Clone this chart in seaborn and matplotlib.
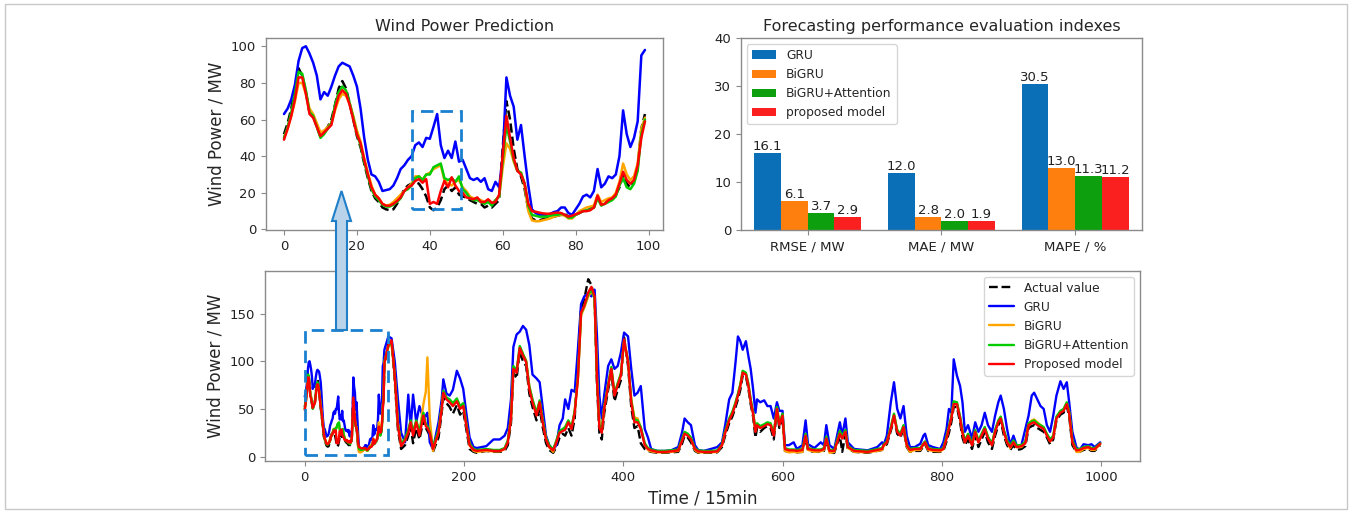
import numpy as np
import pandas as pd
import matplotlib
matplotlib.use("Agg")
import matplotlib.pyplot as plt
from matplotlib.patches import Rectangle, FancyArrow
import seaborn as sns

# ---- first 100 steps (zoomed panel, also start of the long series) ----
top_actual = [52, 58, 66, 77, 88, 84, 75, 64, 62, 56,
              51, 53, 56, 60, 68, 77, 81, 77, 69, 60,
              51, 45, 36, 28, 21, 17, 15, 12, 11, 10.5,
              11, 14, 18, 22, 24, 25, 26, 25, 22, 18,
              12, 10.5, 12, 16, 22, 24, 21, 23, 19, 18,
              17.5, 16, 15, 14, 14, 12, 13, 12, 14, 16,
              45, 70, 60, 44, 33, 29, 22, 11, 6, 5,
              5, 5.5, 6, 6.5, 7, 7.5, 8, 8.5, 7, 6.5,
              8, 9, 10, 11, 11.5, 12, 17, 14, 14, 16,
              17, 19, 23, 30, 25, 23, 26, 34, 55, 63]
top_gru = [63, 66, 71, 79, 92, 99, 100, 96, 91, 84,
           71, 75, 73, 78, 84, 89, 91, 90, 89, 84,
           78, 66, 50, 38, 30, 29, 26, 21, 21.5, 22,
           24, 28, 33, 35, 38, 40, 46, 47.5, 45, 50,
           49.5, 56, 63, 46, 39, 43, 39, 48, 37, 38,
           33, 28, 27, 28, 26, 28, 22, 21, 26, 23,
           40, 83, 73, 67, 49, 57, 40, 24, 11, 9,
           8, 8, 8, 8.5, 9.5, 10, 12, 12, 9, 8,
           11, 14, 18, 19, 17.5, 21, 33, 23, 25, 29,
           28, 30, 40, 65, 52, 45, 50, 59, 95, 98]
top_bigru = [50, 55, 62, 70, 80, 80, 74, 66, 63, 58,
             53, 54, 56, 58, 65, 71, 74, 73, 69, 62,
             54, 48, 39, 31, 24, 19, 17, 14, 13, 13.5,
             15, 17, 19, 21, 23, 25, 29, 29, 27, 30,
             31, 33, 34, 35, 27, 25, 24, 26, 27, 23,
             21, 18, 17, 17, 16, 15, 16, 14, 16, 18,
             34, 47, 44, 37, 32, 31, 24, 10, 5, 4.5,
             4.5, 5, 5.5, 6, 7, 7.5, 8, 7.5, 6, 6,
             8, 10, 11, 12, 12.5, 13, 19, 15, 16, 17,
             17.5, 20, 26, 36, 30, 27, 29, 36, 55, 61]
top_att = [50, 56, 64, 74, 86, 85, 76, 64, 62, 56,
           50, 52, 55, 58, 68, 75, 78, 76, 69, 61,
           52, 46, 37, 29, 22, 18, 16, 13.5, 12.5, 12.5,
           13.5, 15, 17, 21, 22, 24, 28, 29, 27, 30,
           30, 34, 35, 36, 28, 27, 28, 26, 29, 22,
           20, 17, 16, 16, 15, 14, 15, 13, 16, 18,
           38, 57, 48, 38, 32, 31, 25, 13, 8, 7.5,
           7, 7, 7, 7.5, 8, 8, 8.5, 8, 6.5, 6.5,
           8, 9, 10, 10.5, 11, 12, 17, 13, 14, 15,
           16, 18, 24, 28, 23, 22, 25, 32, 52, 60]
top_prop = [49, 55, 62, 71, 83, 83, 74, 63, 61, 56,
            51, 53, 55, 57, 66, 73, 76, 74, 68, 60,
            52, 47, 38, 30, 23, 19, 17, 14, 13, 13,
            14, 15.5, 17.5, 21, 23, 24, 26.5, 27.5, 25.5, 27.5,
            14, 15, 14, 21, 26.5, 23, 28.5, 24, 21, 20,
            17.5, 17, 16.5, 17.5, 15, 15, 16.5, 14.5, 15, 19,
            41, 62, 50, 39, 32, 30, 25, 14, 10, 9.7,
            9.2, 8.8, 8.6, 8.6, 9, 9.2, 9, 8, 7, 7.5,
            8.3, 9, 10, 10, 10.5, 12, 18.5, 13.5, 14, 16,
            17, 19, 25, 31.5, 27, 25, 27, 35, 50, 59]

# ---- rest of the test set at these steps ----
rest_steps = [100, 105, 109, 113, 117, 121, 126, 130, 133, 136,
              140, 144, 149, 152, 154, 157, 161, 168, 172, 174,
              178, 182, 186, 191, 195, 199, 203, 207, 212, 216,
              228, 237, 245, 251, 255, 259, 262, 266, 270, 274,
              278, 282, 286, 291, 295, 299, 303, 307, 312, 316,
              320, 324, 327, 331, 335, 339, 343, 347, 351, 356,
              360, 364, 367, 370, 373, 376, 381, 385, 389, 393,
              397, 401, 406, 410, 414, 418, 422, 427, 431, 435,
              443, 452, 460, 469, 474, 477, 481, 485, 490, 494,
              501, 510, 518, 524, 528, 533, 537, 541, 544, 547,
              550, 554, 557, 560, 563, 566, 568, 572, 577, 581,
              585, 589, 593, 596, 600, 603, 608, 614, 618, 625,
              629, 632, 640, 648, 652, 655, 659, 665, 672, 675,
              679, 682, 690, 707, 719, 725, 727, 731, 736, 740,
              744, 748, 752, 756, 760, 766, 773, 777, 779, 783,
              789, 798, 802, 806, 809, 812, 815, 819, 823, 826,
              829, 833, 838, 842, 846, 850, 854, 858, 863, 867,
              871, 874, 878, 882, 886, 890, 894, 900, 905, 909,
              913, 916, 920, 924, 928, 932, 936, 940, 944, 949,
              953, 957, 960, 964, 969, 973, 978, 984, 988, 992,
              999]
rest_actual = [95, 118, 120, 80, 28, 8, 12, 22, 32, 14,
               30, 18, 38, 30, 27, 22, 5, 20, 46, 62,
               56, 52, 45, 54, 44, 48, 28, 8, 5, 4,
               6, 5, 5, 6, 12, 35, 88, 82, 110, 100,
               95, 66, 52, 38, 50, 30, 14, 7, 4, 10,
               20, 24, 22, 30, 22, 40, 100, 155, 165, 186,
               180, 165, 75, 25, 18, 45, 70, 88, 58, 70,
               80, 125, 95, 52, 30, 32, 14, 8, 6, 5,
               4, 4, 4.5, 5, 14, 22, 20, 15, 6, 4,
               4, 4, 4.5, 10, 22, 35, 42, 52, 60, 70,
               85, 84, 72, 55, 42, 20, 30, 26, 30, 32,
               30, 18, 48, 30, 40, 6, 5, 5, 4.5, 5,
               20, 6, 5, 5, 6, 17, 5, 4, 22, 5,
               24, 8, 5, 4, 6, 7, 10, 13, 27, 40,
               24, 20, 29, 10, 5, 6, 6, 11, 13, 6,
               5, 5, 6, 16, 25, 36, 52, 52, 36, 20,
               12, 18, 8, 22, 10, 18, 26, 15, 8, 22,
               33, 38, 22, 12, 7, 12, 7, 8, 11, 30,
               32, 33, 30, 28, 26, 20, 13, 18, 38, 44,
               46, 53, 42, 12, 5, 5, 7, 8, 6, 6,
               12]
rest_gru = [112, 126, 124, 100, 60, 25, 15, 65, 30, 65,
            36, 53, 40, 43, 46, 15, 8, 36, 60, 81,
            66, 64, 70, 90, 82, 71, 45, 20, 10, 9,
            11, 18, 18, 22, 30, 60, 115, 128, 131, 137,
            133, 117, 86, 82, 78, 50, 22, 12, 7, 12,
            33, 40, 60, 50, 70, 68, 112, 160, 168, 171,
            168, 175, 126, 64, 40, 64, 95, 102, 92, 95,
            109, 130, 126, 92, 64, 67, 74, 29, 20, 8,
            6, 6, 6.6, 10, 26, 40, 36, 33, 12, 7,
            6, 8, 10, 15, 33, 60, 67, 99, 126, 121,
            112, 121, 106, 92, 71, 46, 60, 57, 59, 53,
            53, 40, 57, 48, 48, 12, 12, 15, 8, 12,
            38, 13, 9, 15, 12, 33, 12, 8, 36, 22,
            40, 15, 8, 6.6, 10, 15, 12, 22, 57, 78,
            50, 40, 53, 22, 10, 10, 13.5, 22, 24, 12,
            10, 8, 15, 29, 50, 46, 102, 85, 74, 57,
            26, 33, 19, 36, 26, 33, 46, 33, 26, 43,
            57, 64, 50, 29, 12, 22, 12, 12, 29, 43,
            64, 67, 60, 53, 50, 33, 26, 43, 64, 79,
            71, 78, 57, 26, 10, 7, 13, 12, 13, 10,
            15]
rest_bigru = [99, 115, 119, 85, 35, 12, 18, 27, 37, 25,
              37, 25, 55, 68, 104, 40, 6, 27, 51, 68,
              61, 59, 55, 60, 52, 55, 33, 12, 6, 5,
              6, 5.5, 5.5, 8, 16, 41, 93, 89, 112, 107,
              101, 73, 59, 45, 58, 37, 19, 10, 5, 16,
              26, 28, 30, 37, 30, 47, 82, 148, 156, 168,
              173, 167, 84, 34, 27, 51, 75, 93, 65, 76,
              86, 120, 101, 60, 41, 40, 30, 13, 7, 5.5,
              4.5, 4.5, 5, 6, 18, 25, 23, 19, 7, 4.5,
              4.5, 4.5, 5, 12, 26, 39, 46, 56, 65, 75,
              89, 87, 76, 59, 46, 27, 34, 31, 33, 35,
              34, 23, 51, 34, 44, 6, 4.5, 5, 4.5, 5,
              23, 7, 5, 5.5, 7, 20, 4, 5, 26, 20,
              27, 9, 5, 4.5, 6, 7, 11, 15, 30, 44,
              27, 23, 32, 11, 5, 7, 7, 13, 15, 7,
              6, 5.5, 8, 20, 31, 41, 56, 56, 41, 26,
              15, 23, 12, 27, 15, 23, 30, 20, 12, 27,
              37, 41, 27, 15, 9, 15, 10, 10, 15, 34,
              38, 39, 36, 33, 30, 23, 16, 21, 41, 47,
              49, 56, 46, 16, 5, 5, 8, 9, 7, 7,
              13]
rest_att = [100, 116, 120, 86, 34, 13, 19, 28, 38, 26,
            38, 26, 46, 34, 32, 26, 10, 28, 52, 69,
            62, 60, 56, 61, 53, 56, 34, 14, 8, 7,
            8, 7, 7, 9, 17, 42, 95, 90, 116, 108,
            100, 74, 60, 46, 59, 38, 20, 12, 7.5, 17,
            27, 29, 31, 38, 31, 48, 83, 150, 158, 170,
            175, 166, 82, 33, 28, 52, 76, 94, 66, 77,
            87, 122, 100, 59, 39, 38, 31, 14, 9, 7.5,
            6, 6, 6.5, 7.5, 19, 26, 24, 20, 9, 6.5,
            6, 6, 6.5, 13, 27, 40, 47, 57, 66, 76,
            90, 88, 77, 60, 47, 28, 35, 32, 34, 36,
            35, 24, 52, 35, 45, 9, 7.5, 7.5, 7, 8,
            24, 9, 7.5, 7.5, 9, 21, 7, 7, 27, 21,
            28, 11, 7, 6, 8, 9, 13, 16, 31, 45,
            28, 24, 33, 13, 8, 9, 9, 14, 16, 9,
            8, 7.5, 9, 21, 32, 42, 58, 57, 42, 27,
            17, 24, 14, 28, 17, 24, 31, 21, 14, 28,
            38, 42, 28, 17, 12, 17, 12, 12, 16, 35,
            37, 38, 35, 33, 31, 24, 18, 22, 42, 48,
            50, 57, 47, 17, 8, 8, 10, 11, 9, 9,
            14]
rest_prop = [98, 117, 122, 84, 32, 11, 17, 25, 36, 22,
             36, 22, 43, 32, 30, 25, 8, 25, 50, 67,
             60, 57, 53, 58, 50, 53, 32, 12, 7, 6,
             7, 6, 6, 8, 15, 40, 92, 88, 114, 106,
             99, 71, 57, 43, 57, 35, 18, 10, 6.6, 15,
             25, 27, 28, 36, 29, 46, 81, 151, 158, 172,
             178, 168, 80, 30, 25, 50, 74, 92, 64, 75,
             85, 123, 99, 57, 36, 36, 29, 12, 8, 6.6,
             5, 5, 5.5, 6.6, 17, 24, 22, 18, 8, 5.5,
             5, 5, 5.5, 12, 25, 38, 45, 55, 64, 74,
             88, 86, 75, 58, 45, 26, 33, 30, 32, 34,
             33, 22, 50, 33, 43, 8, 6.6, 6.6, 6, 7,
             22, 8, 6.6, 6.6, 8, 19, 6, 6, 24, 19,
             26, 10, 6, 5, 7, 8, 12, 15, 29, 43,
             26, 22, 31, 12, 7, 8, 8, 13, 15, 8,
             7, 6.6, 8, 19, 30, 40, 55, 55, 40, 25,
             15, 22, 12, 26, 15, 22, 29, 19, 12, 26,
             36, 40, 26, 15, 10, 15, 10, 11, 14, 33,
             35, 36, 33, 31, 29, 22, 16, 20, 40, 46,
             48, 55, 45, 15, 6.6, 7, 9, 10, 8, 8,
             13.5]

# ---- evaluation indexes ----
metrics = ["RMSE / MW", "MAE / MW", "MAPE / %"]
bar_models = ["GRU", "BiGRU", "BiGRU+Attention", "proposed model"]
gru_scores = [16.1, 12.0, 30.5]
bigru_scores = [6.1, 2.8, 13.0]
att_scores = [3.7, 2.0, 11.3]
prop_scores = [2.9, 1.9, 11.2]

line_names = ["Actual value", "GRU", "BiGRU", "BiGRU+Attention", "Proposed model"]
line_colors = ["black", "#0000ff", "#ffa500", "#00cc00", "#ff0000"]
bar_colors = ["#0b6fb8", "#ff7f0e", "#0e9f0e", "#fb2020"]

sns.set_style("ticks")
plt.rcParams["font.family"] = ["DejaVu Sans"]
plt.rcParams.update({
    "axes.edgecolor": "#8a8a8a",
    "axes.linewidth": 1.0,
    "xtick.color": "#8a8a8a",
    "ytick.color": "#8a8a8a",
    "xtick.labelcolor": "#222222",
    "ytick.labelcolor": "#222222",
    "xtick.labelsize": 9.5,
    "ytick.labelsize": 9.5,
})

fig = plt.figure(figsize=(13.52, 5.13), dpi=100)
fig.add_artist(Rectangle((0.004, 0.008), 0.992, 0.984, transform=fig.transFigure,
                         fill=False, ec="#c8c8c8", lw=1))

# ---------- top left: first 100 steps ----------
ax1 = fig.add_axes([0.1967, 0.5517, 0.2937, 0.3752])
steps_top = np.arange(100)
top_series = [top_actual, top_gru, top_bigru, top_att, top_prop]
for vals, name, col in zip(top_series, line_names, line_colors):
    sns.lineplot(x=steps_top, y=vals, ax=ax1, color=col, lw=1.8,
                 linestyle="--" if name == "Actual value" else "-")
ax1.set_title("Wind Power Prediction", fontsize=11.5, pad=5)
ax1.set_ylabel("Wind Power / MW", fontsize=12)
ax1.set_xticks([0, 20, 40, 60, 80, 100])
ax1.set_yticks([0, 20, 40, 60, 80, 100])
ax1.add_patch(Rectangle((35, 11), 13.5, 53.5, fill=False, ec="#1a80d0", lw=2,
                        ls=(0, (4.5, 2.5)), zorder=5))

# ---------- top right: evaluation indexes ----------
ax2 = fig.add_axes([0.548, 0.5507, 0.2966, 0.3752])
bars = pd.DataFrame({
    "metric": metrics * 4,
    "model": np.repeat(bar_models, len(metrics)),
    "value": gru_scores + bigru_scores + att_scores + prop_scores,
})
sns.barplot(data=bars, x="metric", y="value", hue="model", palette=bar_colors,
            saturation=1, width=0.8, edgecolor="none", ax=ax2)
for cont in ax2.containers:
    ax2.bar_label(cont, fmt="%.1f", fontsize=9.5, padding=0, color="#222222")
ax2.set_ylim(0, 40)
ax2.set_yticks([0, 10, 20, 30, 40])
ax2.set_xlabel("")
ax2.set_ylabel("")
ax2.set_title("Forecasting performance evaluation indexes", fontsize=11.5, pad=5)
h, l = ax2.get_legend_handles_labels()
ax2.legend(h, l, loc="upper left", fontsize=8.8, frameon=True)

# ---------- bottom: whole test set ----------
ax3 = fig.add_axes([0.196, 0.1004, 0.6472, 0.3723])
steps_all = list(range(100)) + rest_steps
all_series = [top_actual + rest_actual, top_gru + rest_gru, top_bigru + rest_bigru,
              top_att + rest_att, top_prop + rest_prop]
for vals, name, col in zip(all_series, line_names, line_colors):
    sns.lineplot(x=steps_all, y=vals, ax=ax3, color=col, lw=1.7, label=name,
                 linestyle="--" if name == "Actual value" else "-")
ax3.set_xlabel("Time / 15min", fontsize=12)
ax3.set_ylabel("Wind Power / MW", fontsize=12)
ax3.set_xticks([0, 200, 400, 600, 800, 1000])
ax3.set_yticks([0, 50, 100, 150])
ax3.add_patch(Rectangle((0, 1.5), 104, 131.5, fill=False, ec="#1a80d0", lw=2,
                        ls=(0, (4.5, 2.5)), zorder=5))
ax3.legend(loc="upper right", fontsize=8.8, frameon=True)

# arrow linking the zoom box to the top panel
fig.add_artist(FancyArrow(3.415, 1.83, 0, 1.39, width=0.11, head_width=0.19,
                          head_length=0.30, length_includes_head=True,
                          transform=fig.dpi_scale_trans, fc="#b9d3ea",
                          ec="#1f7fc8", lw=1.5, zorder=10))

fig.savefig("out.png", dpi=100)
